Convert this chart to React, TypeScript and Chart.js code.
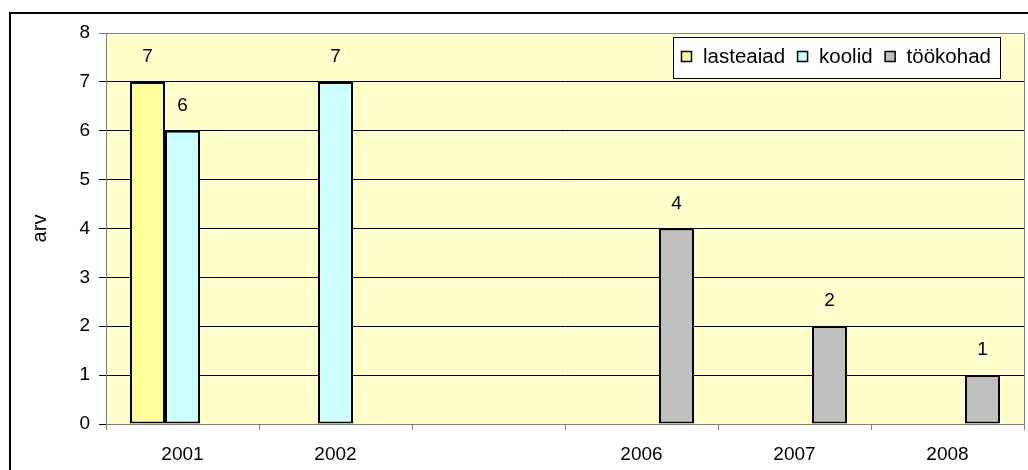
import React, { useEffect, useRef } from "react";
import { Chart, registerables } from "chart.js";

Chart.register(...registerables);

const categories = ["2001", "2002", "", "2006", "2007", "2008"];
const seriesNames = ["lasteaiad", "koolid", "töökohad"];
const lasteaiad = [7, null, null, null, null, null];
const koolid = [6, 7, null, null, null, null];
const tookohad = [null, null, null, 4, 2, 1];
const seriesColors = ["#FFFF99", "#CCFFFF", "#C0C0C0"];
const yTicks = [0, 1, 2, 3, 4, 5, 6, 7, 8];
const yTitle = "arv";

const FONT = "Arial, 'Liberation Sans', sans-serif";
const FS = 19;

const decorPlugin = {
  id: "decor",
  beforeDraw(chart: any) {
    const { ctx, chartArea } = chart;
    ctx.save();
    ctx.fillStyle = "#FFFFCC";
    ctx.fillRect(chartArea.left, chartArea.top, chartArea.right - chartArea.left, chartArea.bottom - chartArea.top);
    ctx.restore();
  },
  afterDatasetsDraw(chart: any) {
    const { ctx, chartArea } = chart;
    ctx.save();
    ctx.font = `${FS}px ${FONT}`;
    ctx.fillStyle = "#000";
    ctx.textAlign = "center";
    ctx.textBaseline = "middle";
    chart.data.datasets.forEach((ds: any, di: number) => {
      const meta = chart.getDatasetMeta(di);
      meta.data.forEach((el: any, i: number) => {
        const v = ds.data[i];
        if (v === null || v === undefined) return;
        ctx.fillText(String(v), el.x, el.y - 25);
      });
    });
    ctx.strokeStyle = "#808080";
    ctx.lineWidth = 1;
    ctx.beginPath();
    ctx.moveTo(chartArea.left, chartArea.top + 0.5);
    ctx.lineTo(chartArea.right + 0.5, chartArea.top + 0.5);
    ctx.lineTo(chartArea.right + 0.5, chartArea.bottom);
    ctx.stroke();
    ctx.restore();
  },
  afterDraw(chart: any) {
    const { ctx } = chart;
    ctx.save();
    const bx = 673, by = 37, bw = 327, bh = 41;
    ctx.fillStyle = "#fff";
    ctx.fillRect(bx, by, bw, bh);
    ctx.strokeStyle = "#000";
    ctx.lineWidth = 1;
    ctx.strokeRect(bx + 0.5, by + 0.5, bw, bh);
    ctx.font = `${FS + 1.5}px ${FONT}`;
    ctx.textBaseline = "middle";
    ctx.textAlign = "left";
    let x = 681;
    const cy = 57;
    seriesNames.forEach((name, i) => {
      ctx.fillStyle = seriesColors[i];
      ctx.fillRect(x, cy - 6, 11, 11);
      ctx.strokeStyle = "#000";
      ctx.lineWidth = 1.5;
      ctx.strokeRect(x + 0.5, cy - 5.5, 10, 10);
      x += 22;
      ctx.fillStyle = "#000";
      ctx.fillText(name, x, cy);
      x += ctx.measureText(name).width + 12;
    });
    ctx.strokeStyle = "#000";
    ctx.lineWidth = 2;
    ctx.strokeRect(10, 13, 1100, 600);
    ctx.restore();
  },
};

export default function App() {
  const ref = useRef<HTMLCanvasElement>(null);
  useEffect(() => {
    if (!ref.current) return;
    const mk = (d: any[], i: number) => ({
      label: seriesNames[i],
      data: d,
      backgroundColor: seriesColors[i],
      borderColor: "#000",
      borderWidth: 2,
      borderSkipped: false,
      categoryPercentage: 0.686,
      barPercentage: 1,
    });
    const chart = new Chart(ref.current, {
      type: "bar",
      data: {
        labels: categories,
        datasets: [mk(lasteaiad, 0), mk(koolid, 1), mk(tookohad, 2)],
      },
      plugins: [decorPlugin],
      options: {
        animation: false,
        responsive: false,
        devicePixelRatio: 1,
        layout: { padding: { left: 24, top: 33, right: 4, bottom: 0 } },
        plugins: { legend: { display: false }, tooltip: { enabled: false } },
        scales: {
          x: {
            type: "category",
            offset: true,
            grid: { offset: true, drawOnChartArea: false, color: "#808080", tickLength: 6 },
            border: { color: "#808080" },
            ticks: { font: { size: FS, family: FONT }, color: "#000", padding: 13, maxRotation: 0 },
            afterFit: (s: any) => { s.height = 46; },
          },
          y: {
            min: 0,
            max: 8,
            afterBuildTicks: (s: any) => { s.ticks = yTicks.map((v) => ({ value: v })); },
            grid: {
              color: (c: any) => (c.tick && c.tick.value === 8 ? "#808080" : "#000"),
              tickLength: 7,
            },
            border: { color: "#808080" },
            ticks: { font: { size: FS, family: FONT }, color: "#000", padding: 9 },
            title: { display: true, text: yTitle, font: { size: FS + 1, family: FONT }, color: "#000" },
            afterFit: (s: any) => { s.width = 106 - 24; },
          },
        },
      },
    });
    return () => chart.destroy();
  }, []);
  return (
    <div style={{ position: "fixed", left: 0, top: 0, width: 1028, height: 470, background: "#fff" }}>
      <canvas ref={ref} width={1028} height={470} />
    </div>
  );
}
